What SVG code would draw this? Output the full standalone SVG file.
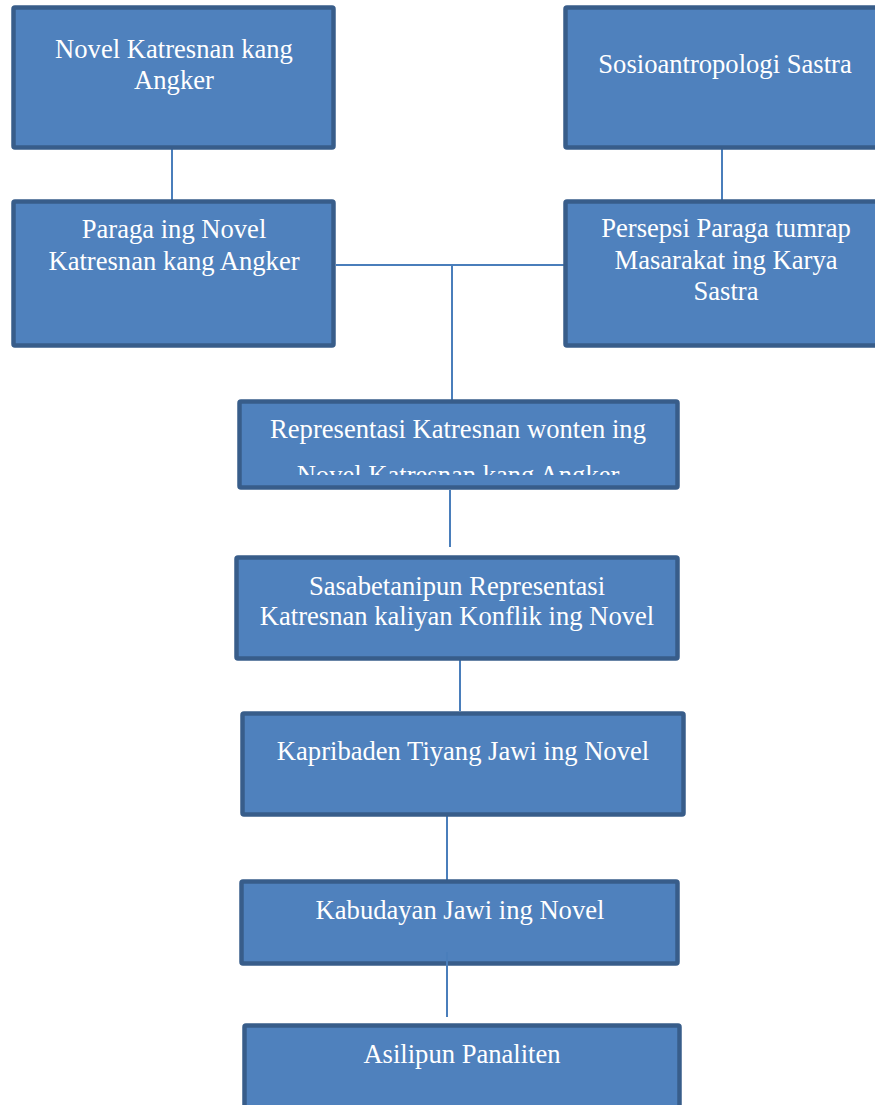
<svg xmlns="http://www.w3.org/2000/svg" width="875" height="1105" viewBox="0 0 875 1105">
<style>
.box{fill:#4f81bd;stroke:#385d8a;stroke-width:4.5}
.t{font-family:"Liberation Serif","Times New Roman",serif;font-size:26.6px;fill:#ffffff;text-anchor:middle}
.c{stroke:#4a7ebb;stroke-width:2;fill:none}
</style>
<defs>
<clipPath id="clip5"><rect x="240" y="402" width="437" height="73"/></clipPath>
</defs>
<rect width="875" height="1105" fill="#ffffff"/>
<g id="connectors">
<line class="c" x1="172" y1="149" x2="172" y2="200"/>
<line class="c" x1="722" y1="149" x2="722" y2="200"/>
<line class="c" x1="336" y1="265" x2="564" y2="265"/>
<line class="c" x1="452" y1="265" x2="452" y2="400"/>
<line class="c" x1="450" y1="490" x2="450" y2="547"/>
<line class="c" x1="460" y1="660" x2="460" y2="711"/>
<line class="c" x1="447" y1="816" x2="447" y2="880"/>
</g>
<g id="n1">
<rect class="box" x="13.5" y="7.5" width="320" height="140" rx="1.5"/>
<text class="t" x="174" y="58">Novel Katresnan kang</text>
<text class="t" x="174" y="89">Angker</text>
</g>
<g id="n2">
<rect class="box" x="565.5" y="7.5" width="325" height="140" rx="1.5"/>
<text class="t" x="725" y="73">Sosioantropologi Sastra</text>
</g>
<g id="n3">
<rect class="box" x="13.5" y="201.5" width="320" height="144" rx="1.5"/>
<text class="t" x="174" y="238">Paraga ing Novel</text>
<text class="t" x="174" y="270">Katresnan kang Angker</text>
</g>
<g id="n4">
<rect class="box" x="565.5" y="201.5" width="325" height="144" rx="1.5"/>
<text class="t" x="726" y="237">Persepsi Paraga tumrap</text>
<text class="t" x="726" y="269">Masarakat ing Karya</text>
<text class="t" x="726" y="300">Sastra</text>
</g>
<g id="n5">
<rect class="box" x="239.5" y="401.5" width="438" height="86" rx="1.5"/>
<g clip-path="url(#clip5)">
<text class="t" x="458" y="438">Representasi Katresnan wonten ing</text>
<text class="t" x="458" y="484">Novel Katresnan kang Angker</text>
</g>
</g>
<g id="n6">
<rect class="box" x="236.5" y="557.5" width="441" height="101" rx="1.5"/>
<text class="t" x="457" y="595">Sasabetanipun Representasi</text>
<text class="t" x="457" y="625">Katresnan kaliyan Konflik ing Novel</text>
</g>
<g id="n7">
<rect class="box" x="242.5" y="713.5" width="441" height="101" rx="1.5"/>
<text class="t" x="463" y="760">Kapribaden Tiyang Jawi ing Novel</text>
</g>
<g id="n8">
<rect class="box" x="241.5" y="881.5" width="436" height="82" rx="1.5"/>
<text class="t" x="460" y="919">Kabudayan Jawi ing Novel</text>
<line class="c" x1="447" y1="952" x2="447" y2="1017"/>
</g>
<g id="n9">
<rect class="box" x="244.5" y="1025.5" width="435" height="100" rx="1.5"/>
<text class="t" x="462" y="1063">Asilipun Panaliten</text>
</g>
</svg>
